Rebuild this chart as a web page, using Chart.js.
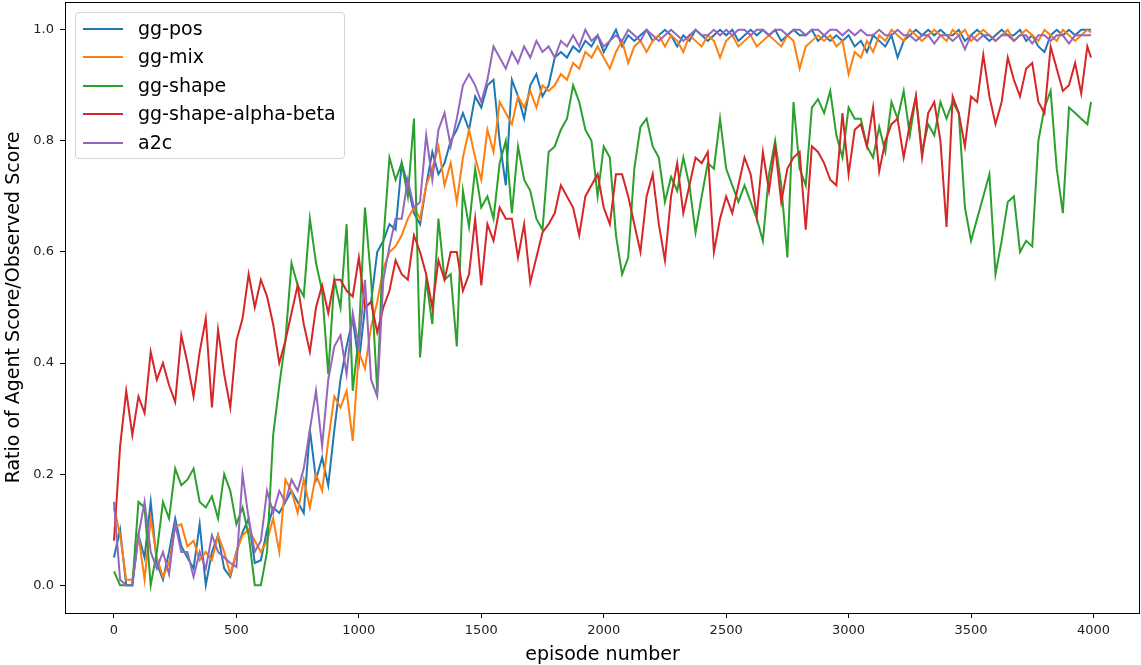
<!DOCTYPE html>
<html>
<head>
<meta charset="utf-8">
<script src="https://cdn.jsdelivr.net/npm/chart.js@4.4.1/dist/chart.umd.min.js"></script>
<style>
  html, body { margin: 0; padding: 0; background: #fff; }
  #wrap { position: relative; width: 1141px; height: 665px; }
  #legend {
    position: absolute; left: 75px; top: 12px; width: 268px; height: 145px;
    border: 1px solid #d4d4d4; border-radius: 4px; background: rgba(255,255,255,0.85);
    font-family: "DejaVu Sans", sans-serif; font-size: 19px; color: #000;
  }
  #legend .row { position: absolute; left: 0; height: 28px; line-height: 28px; white-space: nowrap; }
  #legend .swatch { position: absolute; left: 7px; top: 13px; width: 40px; height: 2px; }
  #legend .lbl { position: absolute; left: 62px; top: -1px; }
</style>
</head>
<body>
<div id="wrap">
  <canvas id="lineChart" width="1141" height="665"></canvas>
  <div id="legend"></div>
</div>
<script>
// episodes sampled every 25 (last point is the final episode)
const episodes = [
  0, 25, 50, 75, 100, 125, 150, 175,
  200, 225, 250, 275, 300, 325, 350, 375,
  400, 425, 450, 475, 500, 525, 550, 575,
  600, 625, 650, 675, 700, 725, 750, 775,
  800, 825, 850, 875, 900, 925, 950, 975,
  1000, 1025, 1050, 1075, 1100, 1125, 1150, 1175,
  1200, 1225, 1250, 1275, 1300, 1325, 1350, 1375,
  1400, 1425, 1450, 1475, 1500, 1525, 1550, 1575,
  1600, 1625, 1650, 1675, 1700, 1725, 1750, 1775,
  1800, 1825, 1850, 1875, 1900, 1925, 1950, 1975,
  2000, 2025, 2050, 2075, 2100, 2125, 2150, 2175,
  2200, 2225, 2250, 2275, 2300, 2325, 2350, 2375,
  2400, 2425, 2450, 2475, 2500, 2525, 2550, 2575,
  2600, 2625, 2650, 2675, 2700, 2725, 2750, 2775,
  2800, 2825, 2850, 2875, 2900, 2925, 2950, 2975,
  3000, 3025, 3050, 3075, 3100, 3125, 3150, 3175,
  3200, 3225, 3250, 3275, 3300, 3325, 3350, 3375,
  3400, 3425, 3450, 3475, 3500, 3525, 3550, 3575,
  3600, 3625, 3650, 3675, 3700, 3725, 3750, 3775,
  3800, 3825, 3850, 3875, 3900, 3925, 3950, 3975,
  3990
];

const ggPos = [
  0.05, 0.10, 0.0, 0.0, 0.09, 0.05, 0.15, 0.04,
  0.01, 0.06, 0.12, 0.07, 0.05, 0.03, 0.11, 0.0,
  0.06, 0.09, 0.03, 0.015, 0.06, 0.095, 0.12, 0.04,
  0.045, 0.10, 0.14, 0.13, 0.15, 0.17, 0.15, 0.13,
  0.28, 0.19, 0.23, 0.18, 0.28, 0.37, 0.43, 0.48,
  0.40, 0.50, 0.51, 0.60, 0.62, 0.65, 0.64, 0.76,
  0.72, 0.67, 0.65, 0.72, 0.78, 0.74, 0.76, 0.80,
  0.82, 0.85, 0.82, 0.88, 0.86, 0.90, 0.91, 0.80,
  0.72, 0.91, 0.88, 0.84, 0.90, 0.92, 0.88, 0.90,
  0.95, 0.96, 0.95, 0.97, 0.96, 0.98, 0.97, 0.99,
  0.96, 0.98, 1.0, 0.97, 0.99, 0.98, 0.99, 1.0,
  0.98, 0.99, 1.0, 0.99, 0.97, 0.99, 0.98, 1.0,
  0.99, 0.98, 0.99, 1.0, 0.99, 1.0, 0.98, 0.99,
  1.0, 0.99, 1.0, 0.99, 1.0, 0.98, 0.99, 1.0,
  0.99, 0.99, 1.0, 0.98, 0.99, 0.98, 0.99, 0.98,
  0.99, 0.97, 0.98, 0.96, 0.99, 0.98, 0.97, 0.99,
  0.95, 0.98, 0.99, 1.0, 0.99, 1.0, 0.99, 1.0,
  0.99, 0.99, 1.0, 0.98, 0.99, 1.0, 0.99, 0.98,
  0.99, 1.0, 0.99, 0.99, 1.0, 0.98, 0.99, 0.97,
  0.96, 0.99, 1.0, 0.99, 1.0, 0.99, 1.0, 1.0,
  1.0
];

const ggMix = [
  0.14, 0.09, 0.01, 0.01, 0.09, 0.01, 0.12, 0.05,
  0.015, 0.04, 0.105, 0.11, 0.07, 0.08, 0.045, 0.06,
  0.045, 0.09, 0.06, 0.02, 0.06, 0.09, 0.10, 0.08,
  0.06, 0.08, 0.12, 0.06, 0.19, 0.17, 0.13, 0.19,
  0.14, 0.20, 0.17, 0.26, 0.34, 0.32, 0.35, 0.26,
  0.42, 0.39, 0.465, 0.51, 0.57, 0.60, 0.61, 0.63,
  0.66, 0.68, 0.66, 0.72, 0.75, 0.79, 0.72, 0.76,
  0.69, 0.77, 0.82, 0.77, 0.73, 0.82, 0.78, 0.87,
  0.85, 0.83, 0.88, 0.86, 0.89, 0.86, 0.90, 0.89,
  0.90, 0.92, 0.91, 0.94, 0.93, 0.96, 0.95, 0.97,
  0.95, 0.93, 0.96, 0.98, 0.94, 0.97, 0.98, 0.96,
  0.98, 0.99, 0.97, 0.99, 0.98, 0.96, 0.99, 0.98,
  0.97, 0.99, 0.98, 0.95, 0.98, 0.99, 0.97, 0.98,
  0.99, 0.97, 0.98, 0.99, 0.98, 0.97, 0.99, 0.98,
  0.93, 0.97, 0.98, 0.99, 0.98, 0.99, 0.97, 0.98,
  0.92, 0.96, 0.95, 0.98, 0.96, 0.99, 0.98, 1.0,
  0.99, 0.98, 1.0, 0.99, 0.98, 0.99, 1.0, 0.99,
  0.98, 1.0, 0.99, 1.0, 0.98, 0.99, 1.0, 0.99,
  0.98, 0.99, 1.0, 0.98, 0.99, 1.0, 0.99, 0.98,
  1.0, 0.99, 0.98, 1.0, 0.99, 0.98, 0.99, 1.0,
  0.995
];

const ggShape = [
  0.025, 0.0, 0.0, 0.0, 0.15, 0.14, 0.0, 0.06,
  0.15, 0.12, 0.21, 0.18, 0.19, 0.21, 0.15, 0.14,
  0.16, 0.12, 0.20, 0.17, 0.11, 0.14, 0.09, 0.0,
  0.0, 0.06, 0.27, 0.36, 0.44, 0.58, 0.54, 0.52,
  0.66, 0.58, 0.53, 0.38, 0.55, 0.50, 0.65, 0.35,
  0.45, 0.68, 0.55, 0.35, 0.62, 0.77, 0.73, 0.76,
  0.70, 0.84, 0.41, 0.55, 0.47, 0.66, 0.55, 0.56,
  0.43, 0.71, 0.645, 0.75, 0.68, 0.70, 0.66, 0.76,
  0.80, 0.67, 0.79, 0.73, 0.71, 0.66, 0.64, 0.78,
  0.79, 0.82, 0.84, 0.90, 0.87, 0.82, 0.80, 0.70,
  0.79, 0.77, 0.63, 0.56, 0.59, 0.75, 0.825, 0.84,
  0.79, 0.77, 0.69, 0.735, 0.71, 0.77, 0.72, 0.635,
  0.70, 0.76, 0.75, 0.84, 0.75, 0.72, 0.69, 0.72,
  0.69, 0.66, 0.62, 0.74, 0.80, 0.72, 0.59, 0.87,
  0.75, 0.72, 0.86, 0.875, 0.85, 0.89, 0.81, 0.77,
  0.86, 0.84, 0.84, 0.79, 0.77, 0.825, 0.78, 0.87,
  0.84, 0.89, 0.81, 0.88, 0.78, 0.83, 0.81, 0.87,
  0.84, 0.87, 0.85, 0.68, 0.62, 0.66, 0.70, 0.74,
  0.56, 0.62, 0.69, 0.70, 0.60, 0.62, 0.61, 0.80,
  0.86, 0.89, 0.75, 0.67, 0.86, 0.85, 0.84, 0.83,
  0.87
];

const ggShapeAlphaBeta = [
  0.08, 0.25, 0.35, 0.27, 0.34, 0.31, 0.42, 0.37,
  0.40, 0.36, 0.33, 0.45, 0.40, 0.34, 0.42, 0.48,
  0.32, 0.46, 0.38, 0.32, 0.44, 0.48, 0.56, 0.50,
  0.55, 0.52, 0.47, 0.40, 0.44, 0.49, 0.54, 0.47,
  0.42, 0.50, 0.54, 0.49, 0.55, 0.55, 0.53, 0.52,
  0.59, 0.50, 0.51, 0.455, 0.50, 0.53, 0.585, 0.56,
  0.55, 0.63, 0.60, 0.56, 0.50, 0.585, 0.55, 0.60,
  0.60, 0.53, 0.56, 0.66, 0.54, 0.65, 0.62, 0.68,
  0.66, 0.66, 0.59, 0.65, 0.545, 0.59, 0.635, 0.65,
  0.67, 0.72, 0.70, 0.68, 0.63, 0.70, 0.72, 0.74,
  0.68, 0.65, 0.74, 0.74, 0.70, 0.65, 0.60, 0.70,
  0.74, 0.65, 0.585, 0.70, 0.76, 0.67, 0.72, 0.77,
  0.76, 0.78, 0.60, 0.66, 0.70, 0.67, 0.72, 0.77,
  0.74, 0.665, 0.78, 0.71, 0.79, 0.69, 0.75, 0.77,
  0.78, 0.64, 0.79, 0.78, 0.76, 0.73, 0.72, 0.85,
  0.74, 0.82, 0.83, 0.79, 0.86, 0.745, 0.80, 0.83,
  0.84, 0.77, 0.83, 0.88, 0.77, 0.85, 0.87, 0.80,
  0.645, 0.88, 0.85, 0.79, 0.88, 0.87, 0.955, 0.88,
  0.83, 0.87, 0.95, 0.91, 0.88, 0.93, 0.94, 0.87,
  0.85, 0.97, 0.93, 0.89, 0.90, 0.94, 0.885, 0.97,
  0.95
];

const a2c = [
  0.15, 0.01, 0.0, 0.0, 0.09, 0.15, 0.06, 0.03,
  0.06, 0.02, 0.11, 0.06, 0.06, 0.015, 0.06, 0.03,
  0.09, 0.06, 0.05, 0.04, 0.033, 0.20, 0.12, 0.06,
  0.08, 0.17, 0.13, 0.17, 0.15, 0.19, 0.17, 0.21,
  0.28, 0.35, 0.25, 0.37, 0.43, 0.45, 0.38, 0.49,
  0.43, 0.55, 0.37, 0.34, 0.55, 0.61, 0.66, 0.66,
  0.73, 0.68, 0.69, 0.81, 0.73, 0.82, 0.85, 0.79,
  0.84, 0.90, 0.92, 0.90, 0.87, 0.91, 0.97, 0.95,
  0.93, 0.96, 0.94, 0.97, 0.95, 0.98, 0.96, 0.97,
  0.95, 0.98, 0.97, 0.99, 0.97, 1.0, 0.98, 0.99,
  0.97, 0.98, 0.99, 0.98, 1.0, 0.99, 0.98, 1.0,
  0.99, 0.98, 0.99, 1.0, 0.99, 0.98, 0.99, 1.0,
  0.99, 0.99, 1.0, 0.99, 1.0, 0.99, 1.0, 1.0,
  0.99, 1.0, 1.0, 0.99, 1.0, 1.0, 0.99, 1.0,
  1.0, 0.99, 1.0, 1.0, 0.99, 1.0, 1.0, 0.99,
  1.0, 0.99, 1.0, 0.99, 0.99, 1.0, 0.99, 0.99,
  1.0, 0.99, 0.99, 0.98, 0.99, 0.99, 0.975, 0.99,
  0.99, 0.98, 0.99, 0.965, 0.99, 0.98, 0.99, 0.99,
  0.98, 0.99, 0.99, 0.98, 0.99, 0.99, 0.975, 0.99,
  0.99, 0.98, 0.99, 0.99, 0.975, 0.99, 0.99, 0.99,
  0.99
];

const seriesNames = ['gg-pos', 'gg-mix', 'gg-shape', 'gg-shape-alpha-beta', 'a2c'];
const seriesValues = [ggPos, ggMix, ggShape, ggShapeAlphaBeta, a2c];
const seriesColors = ['#1f77b4', '#ff7f0e', '#2ca02c', '#d62728', '#9467bd'];

const xTicks = [0, 500, 1000, 1500, 2000, 2500, 3000, 3500, 4000];
const yTicks = [0.0, 0.2, 0.4, 0.6, 0.8, 1.0];

const FONT = '"DejaVu Sans", sans-serif';

const datasets = seriesNames.map((name, k) => ({
    label: name,
    data: episodes.map((e, i) => ({ x: e, y: seriesValues[k][i] })),
    borderColor: seriesColors[k],
    backgroundColor: seriesColors[k],
    borderWidth: 2,
    pointRadius: 0,
    tension: 0,
    fill: false,
    order: seriesNames.length - k   // later series drawn on top, like matplotlib
}));

// axes box (all four spines)
const frame = {
    id: 'frame',
    afterDraw(chart) {
        const { ctx, chartArea: a } = chart;
        ctx.save();
        ctx.strokeStyle = '#000';
        ctx.lineWidth = 1;
        ctx.strokeRect(a.left + 0.5, a.top + 0.5, a.right - a.left - 1, a.bottom - a.top);
        ctx.restore();
    }
};

// keep the axes box where matplotlib put it: no extra room for edge labels
function noEdgePadding(s) {
    s.paddingTop = 0;
    s.paddingBottom = 0;
    s.paddingLeft = 0;
    s.paddingRight = 0;
}

const lineCtx = document.getElementById('lineChart').getContext('2d');

new Chart(lineCtx, {
    type: 'line',
    data: { datasets },
    options: {
        responsive: false,
        animation: false,
        layout: { padding: { left: 0, right: 1, top: 2, bottom: 0 } },
        plugins: { legend: { display: false }, tooltip: { enabled: false } },
        scales: {
            x: {
                type: 'linear',
                min: -200,
                max: 4190,
                afterBuildTicks: s => { s.ticks = xTicks.map(v => ({ value: v })); },
                afterFit: s => { s.height = 52; noEdgePadding(s); },
                grid: { drawOnChartArea: false, drawTicks: true, tickLength: 5, color: '#000' },
                border: { display: false },
                ticks: { color: '#222', font: { family: FONT, size: 13 }, padding: 5, maxRotation: 0,
                         callback: v => String(v) },
                title: { display: true, text: 'episode number', color: '#000',
                         font: { family: FONT, size: 19, lineHeight: 1 }, padding: 0 }
            },
            y: {
                min: -0.05,
                max: 1.05,
                afterBuildTicks: s => { s.ticks = yTicks.map(v => ({ value: v })); },
                afterFit: s => { s.width = 65; noEdgePadding(s); },
                grid: { drawOnChartArea: false, drawTicks: true, tickLength: 5, color: '#000' },
                border: { display: false },
                ticks: { color: '#222', font: { family: FONT, size: 13 }, padding: 6,
                         callback: v => v.toFixed(1) },
                title: { display: true, text: 'Ratio of Agent Score/Observed Score', color: '#000',
                         font: { family: FONT, size: 19, lineHeight: 1 }, padding: { top: 5, bottom: 0 } }
            }
        }
    },
    plugins: [frame]
});

// legend box in the upper left of the axes, as matplotlib places it
const legend = document.getElementById('legend');
seriesNames.forEach((name, k) => {
    const row = document.createElement('div');
    row.className = 'row';
    row.style.top = (2 + k * 28.4) + 'px';
    row.innerHTML = '<span class="swatch" style="background:' + seriesColors[k] + '"></span>' +
                    '<span class="lbl">' + name + '</span>';
    legend.appendChild(row);
});
</script>
</body>
</html>
